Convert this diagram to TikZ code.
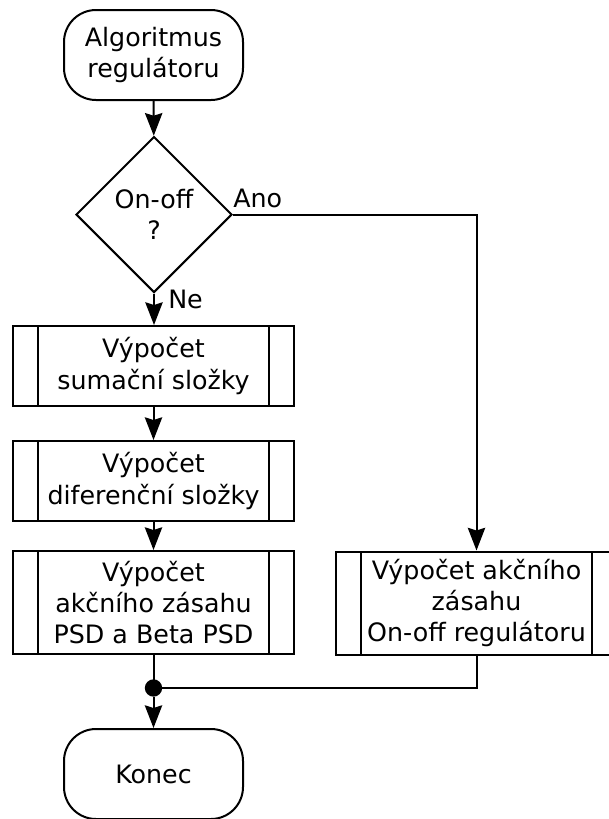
\documentclass[tikz,border=0pt]{standalone}
\usepackage{fontspec}
\setmainfont{DejaVu Sans}
\usetikzlibrary{shapes.geometric,arrows.meta}
\tikzset{
  base/.style={draw, line width=1.5pt, align=center, inner sep=0pt,
    font=\fontsize{19pt}{23.5pt}\selectfont},
  term/.style={base, rectangle, rounded corners=24pt, minimum width=134.25pt, minimum height=67.5pt},
  decision/.style={base, diamond, aspect=1, minimum width=117pt, minimum height=117pt},
  subproc/.style={base, rectangle, minimum width=210.75pt, minimum height=#1,
    path picture={
      \draw[line width=1.5pt] ([xshift=18.75pt]path picture bounding box.north west) -- ([xshift=18.75pt]path picture bounding box.south west);
      \draw[line width=1.5pt] ([xshift=-18.75pt]path picture bounding box.north east) -- ([xshift=-18.75pt]path picture bounding box.south east);
    }},
  subproc/.default=60pt,
  junction/.style={circle, fill=black, inner sep=0pt, minimum size=13pt},
  lbl/.style={inner sep=0pt, font=\fontsize{19pt}{23.5pt}\selectfont},
  conn/.style={line width=1.5pt},
  arr/.style={conn, -{Stealth[length=17pt, width=13pt, inset=2pt]}},
}
\begin{document}
\begin{tikzpicture}[x=0.75pt, y=-0.75pt]
\clip (0,0) rectangle (609,819);
\node[term] (start) at (153.5,55) {Algoritmus\\regulátoru};
\node[decision] (dec) at (154,214.5) {On-off\\?};
\node[subproc] (b1) at (153.5,366) {Výpočet\\sumační složky};
\node[subproc] (b2) at (153.5,481) {Výpočet\\diferenční složky};
\node[subproc=77.25pt] (b3) at (153.5,602.5) {Výpočet\\akčního zásahu\\PSD a Beta PSD};
\node[subproc=77.25pt] (rb) at (476.5,603) {Výpočet akčního\\zásahu\\On-off regulátoru};
\node[junction] (dot) at (153.5,688) {};
\node[term] (end) at (153.5,774) {Konec};
\node[lbl, anchor=base west] (ano) at (233,207) {Ano};
\node[lbl, anchor=base west] (ne) at (168,308) {Ne};
\draw[arr] (start) -- (dec);
\draw[arr] (dec.south) -- (b1.north -| dec.south);
\draw[arr] (dec.east) -| (rb.north);
\draw[arr] (b1) -- (b2);
\draw[arr] (b2) -- (b3);
\draw[conn] (b3.south) -- (dot.center);
\draw[conn] (rb.south) |- (dot.center);
\draw[arr] (dot) -- (end);
\end{tikzpicture}
\end{document}
